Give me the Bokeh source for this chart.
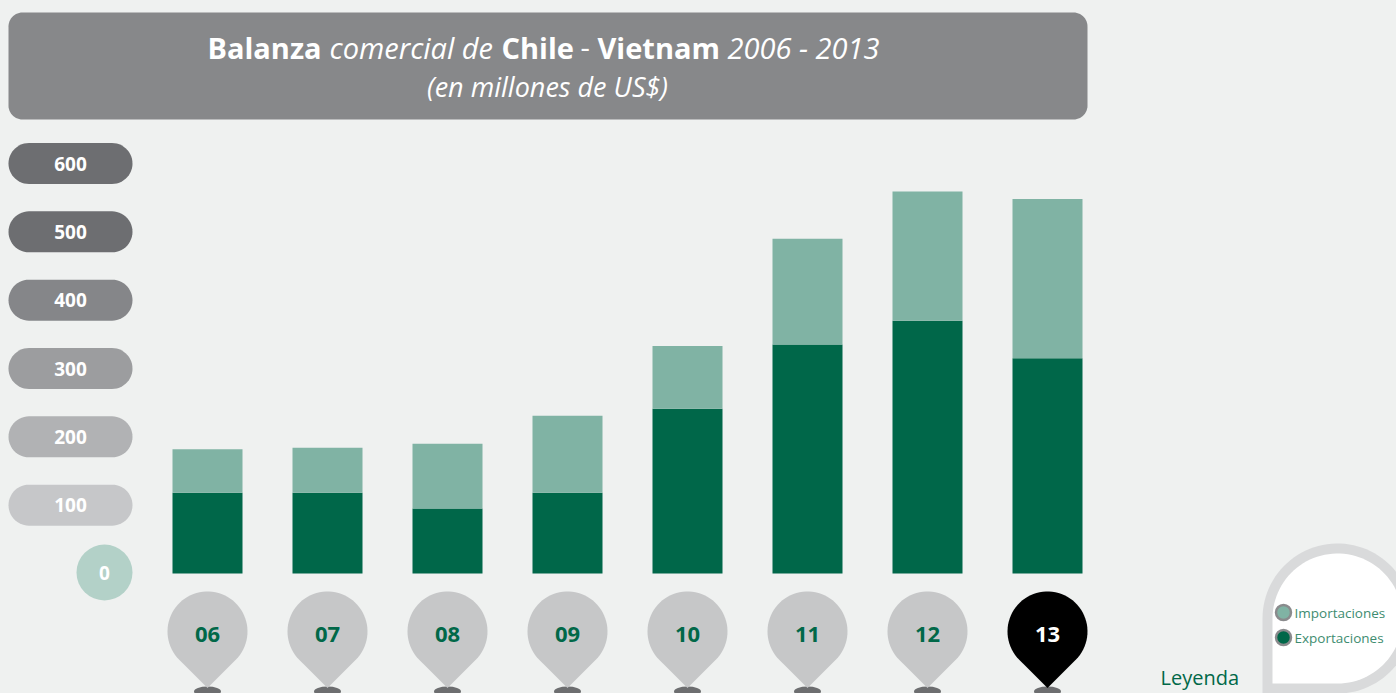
import numpy as np
from bokeh.plotting import figure
from bokeh.models import Range1d, ColumnDataSource
from bokeh.core.properties import value
from bokeh.embed import file_html
from bokeh.resources import INLINE

# ---------------- data ----------------
years = ["06", "07", "08", "09", "10", "11", "12", "13"]
exportaciones = [118, 118, 95, 118, 241, 335, 370, 315]
importaciones = [64, 66, 95, 113, 92, 155, 189, 233]
y_ticks = [0, 100, 200, 300, 400, 500, 600]
y_tick_labels = ["0", "100", "200", "300", "400", "500", "600"]
title_parts = ["Balanza", "comercial de", "Chile", "-", "Vietnam", "2006 - 2013"]
subtitle = "(en millones de US$)"
legend_labels = ["Importaciones", "Exportaciones"]
legend_title = "Leyenda"

# ---------------- style / layout ----------------
W, H = 1396, 693
PX0, PY0 = 0, 0
BG = "#eff1f0"
C_EXP = "#006749"
C_IMP = "#80b3a4"
DARK_GREEN = "#006848"
FONT = value("Open Sans")

BAR_X0, BAR_STEP, BAR_W = 207, 120, 70   # screen px
ZERO_Y, PX_PER_UNIT = 573, 410 / 600      # screen px

x_start = (PX0 - BAR_X0) / BAR_STEP
x_end = (PX0 + W - BAR_X0) / BAR_STEP
y_start = (ZERO_Y - (PY0 + H)) / PX_PER_UNIT
y_end = (ZERO_Y - PY0) / PX_PER_UNIT

p = figure(width=W, height=H, x_range=Range1d(x_start, x_end),
           y_range=Range1d(y_start, y_end), output_backend="svg",
           toolbar_location=None, x_axis_location=None, y_axis_location=None,
           min_border=0, tools="")
p.grid.visible = False
p.outline_line_color = None
p.background_fill_color = BG
p.border_fill_color = BG
p.extra_x_ranges = {"px": Range1d(PX0, PX0 + W)}
p.extra_y_ranges = {"px": Range1d(PY0 + H, PY0)}
PX = dict(x_range_name="px", y_range_name="px")


def sx(i):
    return BAR_X0 + BAR_STEP * i


def sy(v):
    return ZERO_Y - PX_PER_UNIT * v


def rounded_rect(x0, y0, x1, y1, r, n=14):
    xs, ys = [], []
    for cx, cy, a0, a1 in [(x1 - r, y0 + r, -90, 0), (x1 - r, y1 - r, 0, 90),
                           (x0 + r, y1 - r, 90, 180), (x0 + r, y0 + r, 180, 270)]:
        a = np.radians(np.linspace(a0, a1, n))
        xs += list(cx + r * np.cos(a))
        ys += list(cy + r * np.sin(a))
    return xs, ys


def teardrop(cx, cy, r, n=60):
    a = np.radians(np.linspace(45, -225, n))
    xs = [cx] + list(cx + r * np.cos(a))
    ys = [cy + r * np.sqrt(2)] + list(cy + r * np.sin(a))
    return xs, ys


def corner_drop(cx, cy, r, n=80):
    a = np.radians(np.linspace(180, 450, n))
    xs = [cx - r] + list(cx + r * np.cos(a))
    ys = [cy + r] + list(cy + r * np.sin(a))
    return xs, ys


# ---------------- title box ----------------
tx, ty = rounded_rect(8, 12, 1087, 119, 14)
p.patch(tx, ty, fill_color="#87888a", line_color=None, **PX)
title_x = [207, 329, 501, 580, 597, 727]
title_styles = ["bold", "italic", "bold", "normal", "bold", "italic"]
for t, x, st in zip(title_parts, title_x, title_styles):
    p.text(x=[x], y=[47], text=[t], text_font=FONT, text_font_size="29px",
           text_font_style=st, text_color="white", text_align="left",
           text_baseline="alphabetic", **PX)
p.text(x=[547], y=[86], text=[subtitle], text_font=FONT, text_font_size="27px",
       text_font_style="italic", text_color="white", text_align="center",
       text_baseline="alphabetic", **PX)

# ---------------- y pills ----------------
pill_colors = {100: "#c6c7c9", 200: "#b1b2b4", 300: "#9c9d9f", 400: "#858689",
               500: "#6d6e71", 600: "#6d6e71"}
for v, lab in zip(y_ticks, y_tick_labels):
    if v == 0:
        p.circle(x=[104], y=[sy(v) - 1], radius=28, fill_color="#b3d1c8",
                 line_color=None, **PX)
        p.text(x=[104], y=[sy(v) - 1], text=[lab], text_font=FONT,
               text_font_size="19px", text_font_style="bold", text_color="white",
               text_align="center", text_baseline="middle", **PX)
    else:
        xs, ys = rounded_rect(8, sy(v) - 20.5, 132, sy(v) + 20.5, 20.5)
        p.patch(xs, ys, fill_color=pill_colors[v], line_color=None, **PX)
        p.text(x=[70], y=[sy(v)], text=[lab], text_font=FONT,
               text_font_size="19px", text_font_style="bold", text_color="white",
               text_align="center", text_baseline="middle", **PX)

# ---------------- bars ----------------
src = ColumnDataSource(dict(x=list(range(len(years))), exp=exportaciones,
                            imp=importaciones))
p.vbar_stack(["exp", "imp"], x="x", width=BAR_W / BAR_STEP, color=[C_EXP, C_IMP],
             line_color=None, source=src)

# ---------------- year pins ----------------
n = len(years)
p.ellipse(x=[sx(i) for i in range(n)], y=[691] * n, width=27, height=10,
          fill_color="#6d6e70", line_color=None, **PX)
for i, yr in enumerate(years):
    last = i == n - 1
    xs, ys = teardrop(sx(i), 631, 40)
    p.patch(xs, ys, fill_color="#000000" if last else "#c6c7c8", line_color=None, **PX)
    p.text(x=[sx(i)], y=[634], text=[yr], text_font=FONT, text_font_size="22px",
           text_font_style="bold", text_color="white" if last else DARK_GREEN,
           text_align="center", text_baseline="middle", **PX)

# ---------------- legend ----------------
ox, oy = corner_drop(1337, 618, 75)
p.patch(ox, oy, fill_color="#d9dadb", line_color=None, **PX)
ix, iy = corner_drop(1337, 618, 65)
p.patch(ix, iy, fill_color="white", line_color=None, **PX)
p.circle(x=[1283, 1283], y=[612, 637], radius=7.5, fill_color=[C_IMP, C_EXP],
         line_color="#8a8b8d", line_width=2.5, **PX)
p.text(x=[1294, 1294], y=[612, 637], text=legend_labels, text_font=FONT,
       text_font_size="13.5px", text_color="#3e8c70", text_align="left",
       text_baseline="middle", **PX)
p.text(x=[1160], y=[677], text=[legend_title], text_font=FONT,
       text_font_size="20px", text_color=DARK_GREEN, text_align="left",
       text_baseline="alphabetic", **PX)

html = file_html(p, INLINE)
html = html.replace("<body>", '<body style="background-color:%s;">' % BG)
open("out.html", "w").write(html)
